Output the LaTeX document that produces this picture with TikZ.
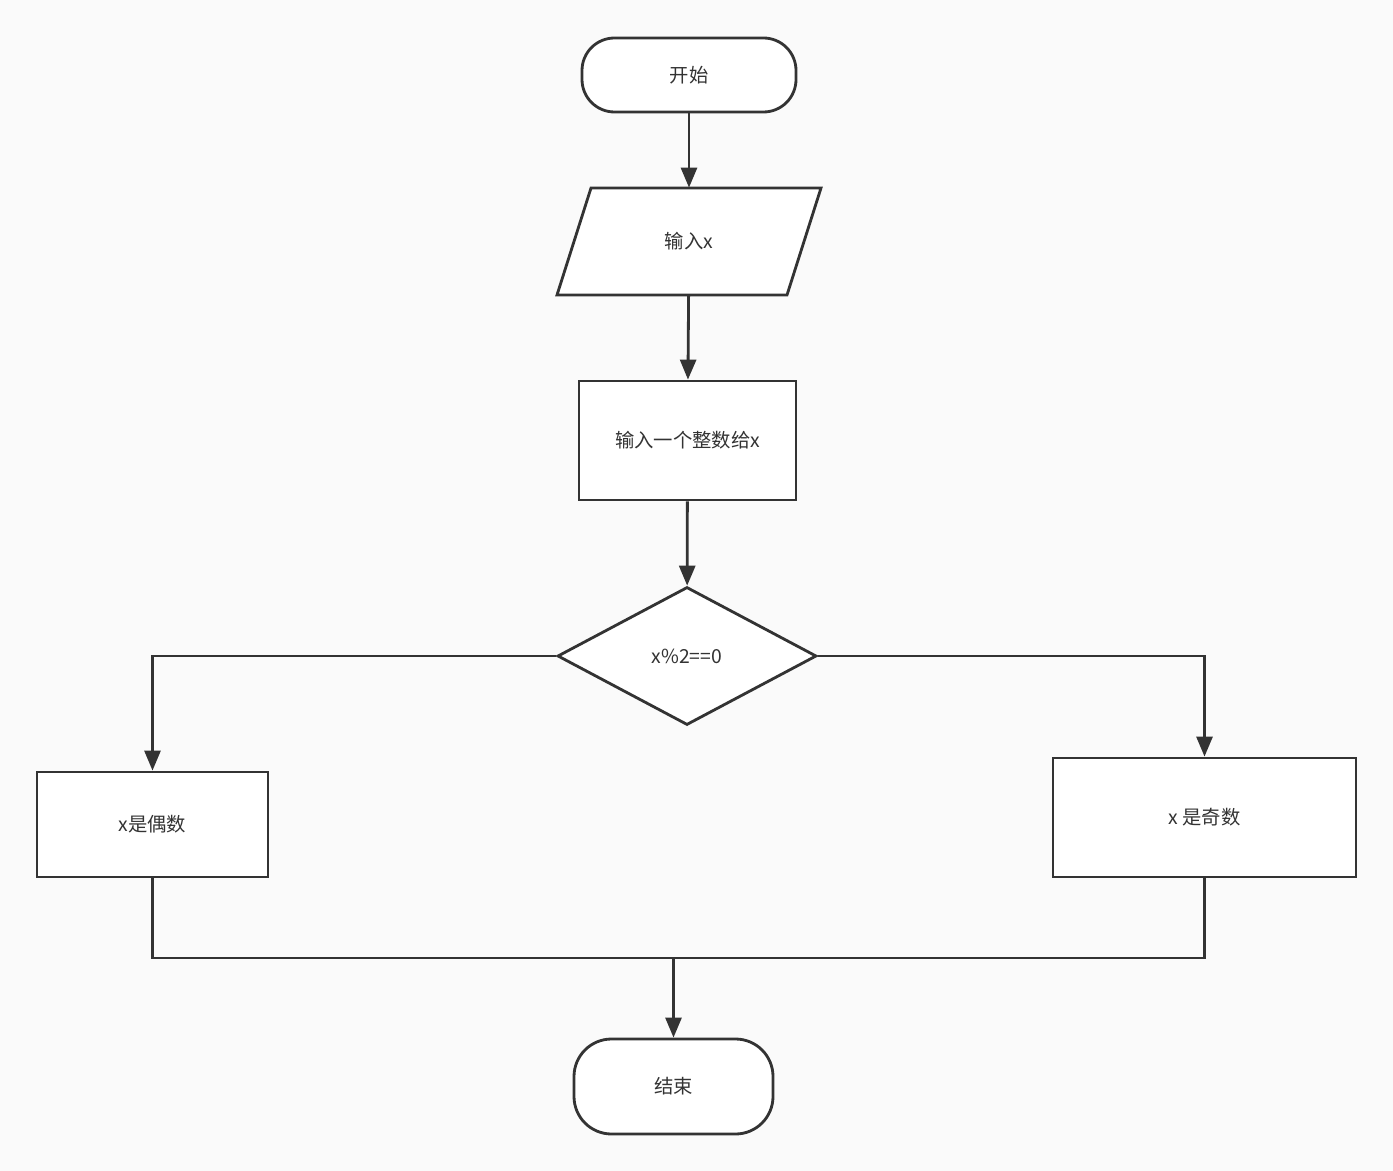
\documentclass[tikz,border=0pt]{standalone}
\usepackage{fontspec}
\newfontfamily\cjk{Noto Sans CJK SC}
\usepackage{xcolor}
\usetikzlibrary{shapes.geometric, arrows.meta, positioning, calc}
\definecolor{ink}{HTML}{333333}
\definecolor{paper}{HTML}{FAFAFA}

\tikzset{
  box/.style={draw=ink, fill=white, line width=1.6pt, text=ink, inner sep=0pt,
              font=\cjk\fontsize{11}{13}\selectfont},
  terminal/.style={box, rectangle, rounded corners=0.65cm},
  outline/.style={draw=ink, fill=white, line width=1.6pt},
  label/.style={text=ink, inner sep=0pt, font=\cjk\fontsize{11}{13}\selectfont},
  decision/.style={box, diamond},
  flow/.style={-{Triangle[length=0.4cm, width=0.32cm]}, draw=ink, line width=1.6pt},
  link/.style={draw=ink, line width=1.6pt}
}

\begin{document}
\begin{tikzpicture}
\fill[paper] (0,0) rectangle (27.86,-23.42);
\useasboundingbox (0,0) rectangle (27.86,-23.42);

% Input parallelogram
\draw[outline] (11.14,-5.90) -- (15.74,-5.90) -- (16.42,-3.76) -- (11.82,-3.76) -- cycle;

% Flow nodes
\node[terminal, minimum width=4.28cm, minimum height=1.48cm] (start) at (13.78,-1.50) {开始};
\node[label, minimum width=4.6cm, minimum height=2.14cm] (read) at (13.78,-4.83) {输入x};
\node[box, minimum width=4.34cm, minimum height=2.38cm] (assign) at (13.75,-8.81) {输入一个整数给x};
\node[decision, minimum width=5.18cm, minimum height=2.76cm] (test) at (13.74,-13.12) {x\%2==0};
\node[box, minimum width=4.62cm, minimum height=2.10cm] (even) at (3.05,-16.49) {x是偶数};
\node[box, minimum width=6.06cm, minimum height=2.38cm] (odd) at (24.09,-16.35) {x 是奇数};
\node[terminal, rounded corners=0.75cm, minimum width=3.98cm, minimum height=1.90cm] (stop) at (13.47,-21.73) {结束};
\coordinate (join) at (13.47,-19.16);

% Connectors
\draw[flow] (start) -- (read);
\draw[flow] (read) -- (assign);
\draw[flow] (assign) -- (test);
\draw[flow] (test.west) -| (even.north);
\draw[flow] (test.east) -| (odd.north);
\draw[link] (even.south) -- (even.south |- join) -- (odd.south |- join) -- (odd.south);
\draw[flow] (join) -- (stop);
\end{tikzpicture}
\end{document}
